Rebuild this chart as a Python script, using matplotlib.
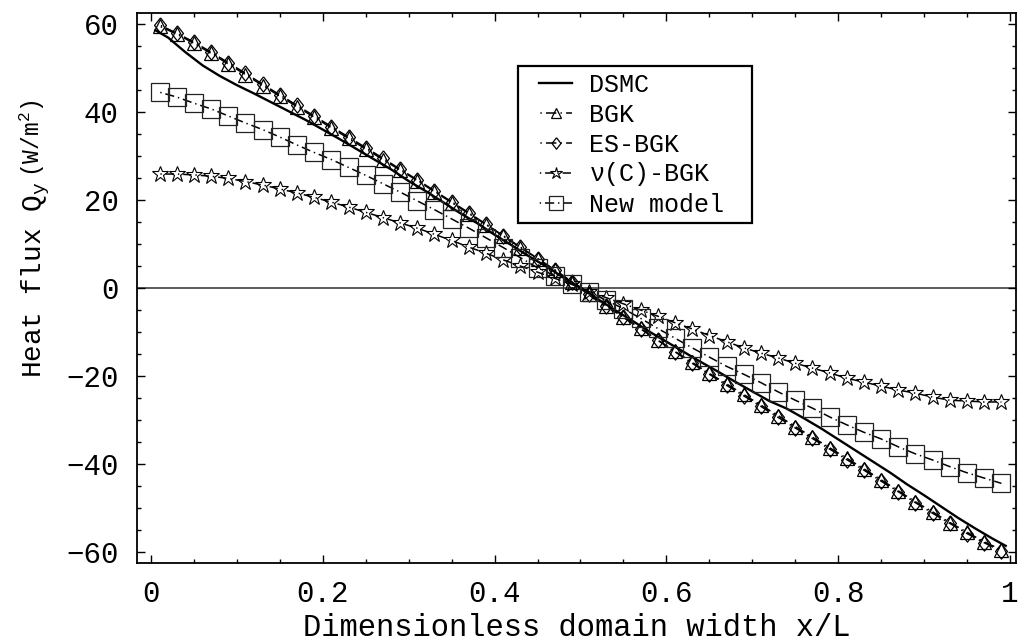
import numpy as np
import matplotlib
matplotlib.use("Agg")
import matplotlib.pyplot as plt
from matplotlib.patches import Rectangle
from matplotlib.ticker import MultipleLocator

plt.rcParams['font.family'] = ['Liberation Mono', 'DejaVu Sans Mono']
plt.rcParams['mathtext.fontset'] = 'custom'
plt.rcParams['mathtext.rm'] = 'Liberation Mono'
plt.rcParams['mathtext.it'] = 'Liberation Mono'
plt.rcParams['lines.scale_dashes'] = False

# ---- data -------------------------------------------------------------
x_model = [0.01, 0.03, 0.05, 0.07, 0.09, 0.11, 0.13, 0.15, 0.17, 0.19,
           0.21, 0.23, 0.25, 0.27, 0.29, 0.31, 0.33, 0.35, 0.37, 0.39,
           0.41, 0.43, 0.45, 0.47, 0.49, 0.51, 0.53, 0.55, 0.57, 0.59,
           0.61, 0.63, 0.65, 0.67, 0.69, 0.71, 0.73, 0.75, 0.77, 0.79,
           0.81, 0.83, 0.85, 0.87, 0.89, 0.91, 0.93, 0.95, 0.97, 0.99]

q_bgk = [59.5, 57.7, 55.6, 53.3, 50.9, 48.5, 46.0, 43.6, 41.2, 38.8,
         36.4, 34.0, 31.6, 29.2, 26.8, 24.4, 21.9, 19.4, 16.9, 14.4,
         11.8, 9.2, 6.7, 4.1, 1.4,
         -1.4, -4.0, -6.6, -9.2, -11.8, -14.4, -16.9, -19.4, -21.8, -24.2,
         -26.6, -29.0, -31.5, -33.9, -36.3, -38.7, -41.1, -43.6, -46.1, -48.6,
         -50.9, -53.3, -55.5, -57.7, -59.5]

q_esbgk = [59.8, 57.9, 55.9, 53.6, 51.2, 48.8, 46.3, 43.9, 41.5, 39.1,
           36.7, 34.3, 31.9, 29.5, 27.0, 24.6, 22.1, 19.6, 17.1, 14.5,
           11.9, 9.3, 6.7, 4.1, 1.4,
           -1.4, -4.1, -6.7, -9.3, -11.9, -14.5, -17.1, -19.6, -22.1, -24.5,
           -26.9, -29.4, -31.8, -34.2, -36.6, -39.0, -41.4, -43.9, -46.3, -48.8,
           -51.2, -53.5, -55.8, -57.9, -59.8]

q_nuc_bgk = [25.9, 25.9, 25.7, 25.4, 24.9, 24.2, 23.4, 22.5, 21.6, 20.6,
             19.5, 18.4, 17.2, 16.0, 14.8, 13.6, 12.2, 10.8, 9.3, 7.9,
             6.4, 5.0, 3.6, 2.2, 0.8,
             -0.8, -2.2, -3.6, -5.0, -6.4, -7.9, -9.3, -10.8, -12.2, -13.6,
             -14.8, -15.9, -17.1, -18.2, -19.3, -20.5, -21.4, -22.3, -23.2, -23.9,
             -24.8, -25.5, -25.7, -25.9, -25.9]

q_new = [44.5, 43.4, 42.0, 40.7, 39.1, 37.5, 36.0, 34.3, 32.5, 30.8,
         29.2, 27.4, 25.6, 23.7, 21.8, 19.8, 17.8, 15.7, 13.6, 11.4,
         9.2, 6.9, 4.6, 2.8, 0.9,
         -0.9, -2.8, -4.7, -6.9, -9.2, -11.4, -13.6, -15.7, -17.8, -19.6,
         -21.5, -23.6, -25.5, -27.3, -29.3, -31.1, -32.8, -34.3, -36.1, -37.7,
         -39.1, -40.6, -42.0, -43.2, -44.4]

x_dsmc = [0.005, 0.02, 0.04, 0.06, 0.08, 0.10, 0.12, 0.14, 0.16, 0.18,
          0.20, 0.22, 0.24, 0.26, 0.28, 0.30, 0.32, 0.34, 0.36, 0.38,
          0.40, 0.42, 0.44, 0.46, 0.48, 0.50, 0.52, 0.54, 0.56, 0.58,
          0.60, 0.62, 0.64, 0.66, 0.68, 0.70, 0.72, 0.74, 0.76, 0.78,
          0.80, 0.82, 0.84, 0.86, 0.88, 0.90, 0.92, 0.94, 0.96, 0.98, 0.995]
q_dsmc = [58.6, 56.9, 53.6, 50.6, 48.2, 46.1, 44.2, 42.2, 40.2, 38.2,
          36.0, 33.8, 31.5, 29.2, 26.9, 24.3, 22.0, 19.5, 17.0, 14.7,
          12.1, 9.7, 7.2, 4.9, 2.4, 0.1, -2.5, -5.0, -7.4, -9.9,
          -12.2, -14.5, -16.8, -19.0, -21.3, -23.5, -25.7, -27.4, -29.6, -31.9,
          -34.4, -36.9, -39.4, -41.9, -44.6, -47.1, -49.7, -52.3, -54.7, -57.0, -58.6]

labels = ['DSMC', 'BGK', 'ES-BGK', '\u03bd(C)-BGK', 'New model']

x_ticks = [0, 0.2, 0.4, 0.6, 0.8, 1.0]
x_tick_labels = ['0', '0.2', '0.4', '0.6', '0.8', '1']
y_ticks = [-60, -40, -20, 0, 20, 40, 60]
y_tick_labels = ['\u221260', '\u221240', '\u221220', '0', '20', '40', '60']

# ---- figure -----------------------------------------------------------
W, H = 1020, 644
fig = plt.figure(figsize=(W / 100, H / 100), dpi=100)


def fx(px):
    return px / W


def fy(py):
    return 1 - py / H


ax = fig.add_axes([fx(137), fy(563), (1016 - 137) / W, (563 - 13) / H])
ax.set_xlim(-0.0163, 1.007)
ax.set_ylim(-62.5, 62.5)

ax.axhline(0, color='#404040', lw=1.2, zorder=1)

diamond = [(0, 1), (0.78, 0), (0, -1), (-0.78, 0), (0, 1)]

h_dsmc, = ax.plot(x_dsmc, q_dsmc, color='black', lw=1.7, zorder=3)
h_bgk, = ax.plot(x_model, q_bgk, color='black', lw=1.1,
                 ls=(13.5, (1, 3, 7.5, 3)), marker='^', ms=10.5,
                 mfc='none', mec='black', mew=0.9, zorder=4)
h_es, = ax.plot(x_model, q_esbgk, color='black', lw=1.1,
                ls=(13.5, (1, 3, 7.5, 3)), marker=diamond, ms=11,
                mfc='none', mec='black', mew=0.9, zorder=4)
h_nu, = ax.plot(x_model, q_nuc_bgk, color='black', lw=1.1,
                ls=(12.0, (1, 2.8, 6.0, 2.8)), marker='*', ms=12,
                mfc='none', mec='black', mew=0.8, zorder=4)
h_new, = ax.plot(x_model, q_new, color='black', lw=1.1,
                 ls=(12.7, (1, 2.8, 6.6, 2.8)), marker='s', ms=12.5,
                 mfc='none', mec='#222222', mew=0.9, zorder=4)

ax.set_xticks(x_ticks, labels=x_tick_labels)
ax.set_yticks(y_ticks, labels=y_tick_labels)
ax.xaxis.set_minor_locator(MultipleLocator(0.05))
ax.yaxis.set_minor_locator(MultipleLocator(5))
ax.tick_params(which='both', direction='in', top=True, right=True,
               width=1.0, colors='black', labelsize=21)
ax.tick_params(which='major', length=6)
ax.tick_params(which='minor', length=3)
ax.tick_params(axis='x', pad=12)
ax.tick_params(axis='y', pad=13)
for s in ax.spines.values():
    s.set_linewidth(1.3)

ax.set_xlabel('Dimensionless domain width x/L', fontsize=22, labelpad=4)

# y-axis title built from two pieces (quantity and unit)
fig.text(fx(41), fy(378), r'Heat flux Q$_\mathrm{y}$', rotation=90,
         rotation_mode='anchor', ha='left', va='baseline', fontsize=20)
fig.text(fx(40), fy(177), r'(W/m$^\mathrm{2}$)', rotation=90,
         rotation_mode='anchor', ha='left', va='baseline', fontsize=16.5)

leg = ax.legend([h_dsmc, h_bgk, h_es, h_nu, h_new], labels,
                loc='upper left', bbox_to_anchor=(fx(522), fy(55)),
                bbox_transform=fig.transFigure, frameon=False, fontsize=18,
                handlelength=1.3, handletextpad=0.7, labelspacing=0.24,
                borderpad=0.2, markerscale=0.75, numpoints=1)

fig.add_artist(Rectangle((fx(518), fy(223)), (752 - 518) / W, (223 - 66) / H,
                         transform=fig.transFigure, fill=False,
                         lw=1.6, ec='black'))

fig.savefig('out.png', dpi=100)
